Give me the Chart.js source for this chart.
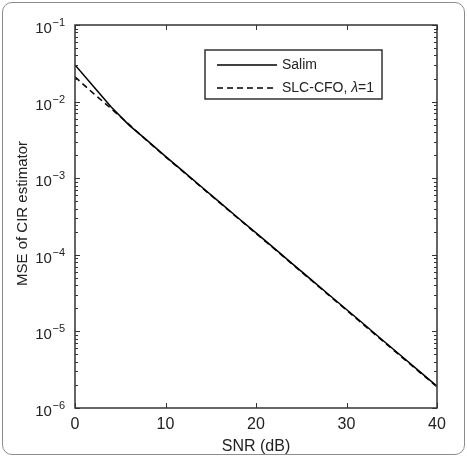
<!DOCTYPE html>
<html>
<head>
<meta charset="utf-8">
<script src="https://cdn.jsdelivr.net/npm/chart.js@4/dist/chart.umd.min.js"></script>
<style>
    html, body { margin: 0; padding: 0; background: #fff; }
    #wrap { position: relative; width: 467px; height: 456px; }
    #frame {
        position: absolute; left: 2px; top: 2px; width: 461px; height: 451px;
        border: 1.5px solid #8c8c8c; border-radius: 10px; pointer-events: none;
    }
    canvas { position: absolute; left: 0; top: 0; }
</style>
</head>
<body>
<div id="wrap">
    <canvas id="mseChart" width="467" height="456"></canvas>
    <div id="frame"></div>
</div>
<script>
const snrDb = [0, 2, 4, 6, 8, 10, 12, 14, 16, 18, 20, 22, 24, 26, 28, 30, 32, 34, 36, 38, 40];
const salimMse = [3.01e-2, 1.60e-2, 8.5e-3, 4.9e-3, 3.09e-3, 1.93e-3, 1.22e-3, 7.67e-4, 4.84e-4, 3.05e-4, 1.93e-4,
    1.22e-4, 7.67e-5, 4.84e-5, 3.05e-5, 1.93e-5, 1.22e-5, 7.67e-6, 4.84e-6, 3.05e-6, 1.93e-6];
const slcCfoMse = [2.10e-2, 1.29e-2, 8.1e-3, 5.0e-3, 3.05e-3, 1.90e-3, 1.20e-3, 7.55e-4, 4.77e-4, 3.0e-4, 1.90e-4,
    1.20e-4, 7.55e-5, 4.76e-5, 3.0e-5, 1.89e-5, 1.19e-5, 7.5e-6, 4.73e-6, 2.99e-6, 1.89e-6];
const xTicks = [0, 10, 20, 30, 40];
const yExponents = [-1, -2, -3, -4, -5, -6];

const axisColor = '#333';
const fontFamily = 'Arial, "Liberation Sans", Helvetica, sans-serif';

// frame, inward ticks, y labels with exponents, y title and legend
const decorations = {
    id: 'decorations',
    afterDraw(chart) {
        const ctx = chart.ctx;
        const area = chart.chartArea;
        const xs = chart.scales.x;
        const ys = chart.scales.y;
        ctx.save();
        ctx.strokeStyle = axisColor;
        ctx.lineWidth = 1.5;
        ctx.strokeRect(area.left, area.top, area.right - area.left, area.bottom - area.top);

        ctx.lineWidth = 1;
        ctx.beginPath();
        xTicks.forEach(v => {
            const px = Math.round(xs.getPixelForValue(v)) + 0.5;
            ctx.moveTo(px, area.bottom); ctx.lineTo(px, area.bottom - 5);
            ctx.moveTo(px, area.top); ctx.lineTo(px, area.top + 5);
        });
        yExponents.forEach(e => {
            for (let m = 1; m <= 9; m++) {
                const v = m * Math.pow(10, e);
                if (v > 0.1 + 1e-12 || v < 1e-6 - 1e-18) continue;
                const py = Math.round(ys.getPixelForValue(v)) + 0.5;
                const len = m === 1 ? 5 : 3;
                ctx.moveTo(area.left, py); ctx.lineTo(area.left + len, py);
                ctx.moveTo(area.right, py); ctx.lineTo(area.right - len, py);
            }
        });
        ctx.stroke();

        // y tick labels 10^e
        ctx.fillStyle = '#222';
        ctx.textBaseline = 'alphabetic';
        yExponents.forEach(e => {
            const py = ys.getPixelForValue(Math.pow(10, e));
            ctx.font = '11px ' + fontFamily;
            const expText = String(e).replace('-', '\u2212');
            const expW = ctx.measureText(expText).width;
            ctx.textAlign = 'right';
            ctx.fillText(expText, area.left - 10, py + 1);
            ctx.font = '15px ' + fontFamily;
            ctx.fillText('10', area.left - 10 - expW - 0.5, py + 8);
        });

        // y title
        ctx.save();
        ctx.translate(23, (area.top + area.bottom) / 2 - 3);
        ctx.rotate(-Math.PI / 2);
        ctx.textAlign = 'center';
        ctx.textBaseline = 'middle';
        ctx.font = '15px ' + fontFamily;
        ctx.fillText('MSE of CIR estimator', 0, 0);
        ctx.restore();

        // legend box
        const lx = 205, ly = 50, lw = 177, lh = 49;
        ctx.fillStyle = '#fff';
        ctx.fillRect(lx, ly, lw, lh);
        ctx.strokeStyle = axisColor;
        ctx.lineWidth = 1.5;
        ctx.strokeRect(lx, ly, lw, lh);
        const rows = [
            { y: ly + 15, dash: [] },
            { y: ly + 38, dash: [6, 4] }
        ];
        ctx.strokeStyle = '#000';
        ctx.lineWidth = 1.5;
        rows.forEach(r => {
            ctx.setLineDash(r.dash);
            ctx.beginPath();
            ctx.moveTo(lx + 12, r.y); ctx.lineTo(lx + 72, r.y);
            ctx.stroke();
        });
        ctx.setLineDash([]);
        ctx.fillStyle = '#222';
        ctx.textAlign = 'left';
        ctx.textBaseline = 'middle';
        ctx.font = '14px ' + fontFamily;
        const tx0 = lx + 77;
        ctx.fillText('Salim', tx0, rows[0].y);
        let tx = tx0;
        const part1 = 'SLC-CFO, ';
        ctx.fillText(part1, tx, rows[1].y);
        tx += ctx.measureText(part1).width;
        ctx.font = 'italic 14px ' + fontFamily;
        ctx.fillText('\u03bb', tx, rows[1].y);
        tx += ctx.measureText('\u03bb').width;
        ctx.font = '14px ' + fontFamily;
        ctx.fillText('=1', tx, rows[1].y);
        ctx.restore();
    }
};

new Chart(document.getElementById('mseChart'), {
    type: 'line',
    data: {
        datasets: [
            {
                label: 'Salim',
                data: snrDb.map((x, i) => ({ x, y: salimMse[i] })),
                borderColor: '#000',
                borderWidth: 1.5,
                pointRadius: 0,
                tension: 0
            },
            {
                label: 'SLC-CFO, \u03bb=1',
                data: snrDb.map((x, i) => ({ x, y: slcCfoMse[i] })),
                borderColor: '#000',
                borderWidth: 1.5,
                borderDash: [6, 4],
                pointRadius: 0,
                tension: 0
            }
        ]
    },
    options: {
        responsive: false,
        animation: false,
        events: [],
        layout: { padding: { left: 75, top: 25, right: 30, bottom: 0 } },
        plugins: { legend: { display: false }, tooltip: { enabled: false } },
        scales: {
            x: {
                type: 'linear',
                min: 0,
                max: 40,
                afterBuildTicks: scale => { scale.ticks = xTicks.map(v => ({ value: v })); },
                afterFit: scale => { scale.height = 48; },
                grid: { display: false, drawTicks: false },
                border: { display: false },
                ticks: { color: '#222', font: { family: fontFamily, size: 16 }, padding: 7, maxRotation: 0 },
                title: {
                    display: true,
                    text: 'SNR (dB)',
                    color: '#222',
                    font: { family: fontFamily, size: 16 },
                    padding: { top: 0, bottom: 0 }
                }
            },
            y: {
                type: 'logarithmic',
                min: 1e-6,
                max: 1e-1,
                display: false
            }
        }
    },
    plugins: [decorations]
});
</script>
</body>
</html>
